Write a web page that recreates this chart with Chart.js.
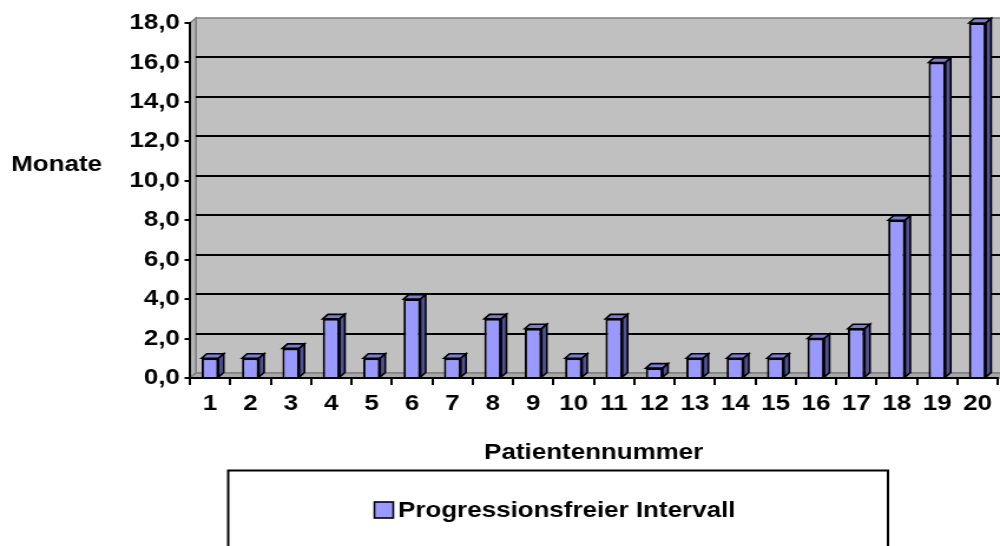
<!DOCTYPE html>
<html>
<head>
<meta charset="utf-8">
<script src="https://cdn.jsdelivr.net/npm/chart.js@4/dist/chart.umd.min.js"></script>
<style>
  html, body { margin: 0; padding: 0; background: #ffffff; overflow: hidden; }
</style>
</head>
<body>
<!-- the drawing is laid out on a narrower canvas and widened to the page width -->
<canvas id="chart" width="848" height="546" style="display:block;width:1000px;height:546px"></canvas>
<script>
// Patient numbers along the x axis
const patients = ['1', '2', '3', '4', '5', '6', '7', '8', '9', '10',
                  '11', '12', '13', '14', '15', '16', '17', '18', '19', '20'];
// Progression-free interval per patient, in months
const months = [1, 1, 1.5, 3, 1, 4, 1, 3, 2.5, 1, 3, 0.5, 1, 1, 1, 2, 2.5, 8, 16, 18];
// Value axis
const yMin = 0;
const yMax = 18;
const yStep = 2;

const seriesLabel = 'Progressionsfreier Intervall';
const xTitle = 'Patientennummer';
const yTitle = 'Monate';

const FONT = "'Liberation Sans', Arial, Helvetica, sans-serif";
const boldFont = { family: FONT, size: 22, weight: 'bold' };

// Back wall, side wall and floor of the 3-D plot box, with the grid on the back wall
const wallsPlugin = {
  id: 'walls',
  beforeDraw(chart, args, o) {
    const { ctx, chartArea: a, scales: { y } } = chart;
    const dx = o.dx, dy = o.dy;
    const poly = (pts, fill, stroke, lw) => {
      ctx.beginPath();
      pts.forEach((p, i) => i ? ctx.lineTo(p[0], p[1]) : ctx.moveTo(p[0], p[1]));
      ctx.closePath();
      if (fill) { ctx.fillStyle = fill; ctx.fill(); }
      if (stroke) { ctx.strokeStyle = stroke; ctx.lineWidth = lw || 1; ctx.stroke(); }
    };
    ctx.save();
    // back wall
    poly([[a.left + dx, a.top + dy], [a.right + dx + 20, a.top + dy],
          [a.right + dx + 20, a.bottom + dy], [a.left + dx, a.bottom + dy]], '#C0C0C0', '#808080', 1.5);
    // left side wall
    poly([[a.left, a.top], [a.left + dx, a.top + dy], [a.left + dx, a.bottom + dy], [a.left, a.bottom]],
         '#B4B4B4', '#808080', 1.5);
    // floor
    poly([[a.left, a.bottom], [a.left + dx, a.bottom + dy], [a.right + dx + 20, a.bottom + dy], [a.right + 20, a.bottom]],
         '#A8A8A8', '#808080', 1.5);
    // grid lines on the back wall
    ctx.strokeStyle = '#000000';
    ctx.lineWidth = 2;
    y.ticks.forEach(t => {
      if (t.value <= yMin || t.value >= yMax) return;
      const py = Math.round(y.getPixelForValue(t.value) + dy);
      ctx.beginPath();
      ctx.moveTo(a.left + dx, py);
      ctx.lineTo(a.right + dx + 20, py);
      ctx.stroke();
    });
    ctx.restore();
  }
};

// Top and side faces that give each bar its depth
const barDepthPlugin = {
  id: 'barDepth',
  afterDatasetsDraw(chart, args, o) {
    const { ctx } = chart;
    const dx = o.dx, dy = o.dy;
    ctx.save();
    ctx.strokeStyle = '#000000';
    ctx.lineWidth = 1.6;
    ctx.lineJoin = 'miter';
    chart.getDatasetMeta(0).data.forEach(bar => {
      const { x, y, base, width } = bar.getProps(['x', 'y', 'base', 'width'], true);
      const l = x - width / 2, r = x + width / 2;
      // top face
      ctx.beginPath();
      ctx.moveTo(l, y); ctx.lineTo(l + dx, y + dy); ctx.lineTo(r + dx, y + dy); ctx.lineTo(r, y);
      ctx.closePath();
      ctx.fillStyle = o.topColor; ctx.fill(); ctx.stroke();
      // right side face
      ctx.beginPath();
      ctx.moveTo(r, y); ctx.lineTo(r + dx, y + dy); ctx.lineTo(r + dx, base + dy); ctx.lineTo(r, base);
      ctx.closePath();
      ctx.fillStyle = o.sideColor; ctx.fill(); ctx.stroke();
    });
    ctx.restore();
  }
};

// Horizontal value-axis caption and the framed legend below the chart
const captionsPlugin = {
  id: 'captions',
  afterDraw(chart, args, o) {
    const { ctx } = chart;
    const ds = chart.data.datasets[0];
    ctx.save();
    ctx.fillStyle = '#000000';
    ctx.font = `bold ${boldFont.size}px ${FONT}`;
    ctx.textBaseline = 'middle';
    // "Monate"
    ctx.textAlign = 'center';
    ctx.fillText(yTitle, o.yTitleX, o.yTitleY);
    // legend frame
    const L = o.legend;
    ctx.strokeStyle = '#000000';
    ctx.lineWidth = 2;
    ctx.strokeRect(L.x, L.y, L.w, L.h);
    // legend swatch
    ctx.fillStyle = ds.backgroundColor;
    ctx.fillRect(L.boxX, L.boxY, L.box, L.box);
    ctx.lineWidth = 1.6;
    ctx.strokeRect(L.boxX, L.boxY, L.box, L.box);
    // legend text
    ctx.fillStyle = '#000000';
    ctx.textAlign = 'left';
    ctx.fillText(ds.label, L.textX, L.textY);
    ctx.restore();
  }
};

new Chart(document.getElementById('chart'), {
  type: 'bar',
  data: {
    labels: patients,
    datasets: [{
      label: seriesLabel,
      data: months,
      backgroundColor: '#9999FF',
      borderColor: '#000000',
      borderWidth: 2,
      categoryPercentage: 1,
      barPercentage: 0.42
    }]
  },
  options: {
    responsive: false,
    devicePixelRatio: 1,
    animation: false,
    layout: { padding: { top: 23, bottom: 76, left: 0, right: 2 } },
    plugins: {
      legend: { display: false },
      tooltip: { enabled: false },
      walls: { dx: 5.1, dy: -5 },
      barDepth: { dx: 4.4, dy: -4.5, topColor: '#7C7CD4', sideColor: '#51519A' },
      captions: {
        yTitleX: 48,
        yTitleY: 165,
        legend: { x: 193.5, y: 470.5, w: 559.5, h: 110, boxX: 317.5, boxY: 502, box: 16, textX: 337.5, textY: 511 }
      }
    },
    scales: {
      x: {
        grid: { display: true, drawOnChartArea: false, drawTicks: true, tickLength: 7, color: '#000000', lineWidth: 2, offset: true },
        border: { display: true, color: '#000000', width: 2 },
        ticks: { color: '#000000', font: boldFont, padding: 6, maxRotation: 0, autoSkip: false },
        title: { display: true, text: xTitle, color: '#000000', font: boldFont, padding: { top: 4, bottom: 4 } },
        afterFit(scale) { scale.height = 92; }
      },
      y: {
        min: yMin,
        max: yMax,
        grid: { display: true, drawOnChartArea: false, drawTicks: true, tickLength: 4.5, color: '#000000', lineWidth: 2 },
        border: { display: true, color: '#000000', width: 2 },
        ticks: {
          stepSize: yStep,
          color: '#000000',
          font: boldFont,
          padding: 4,
          callback: v => Number(v).toFixed(1).replace('.', ',')
        },
        afterFit(scale) { scale.width = 161; }
      }
    }
  },
  plugins: [wallsPlugin, barDepthPlugin, captionsPlugin]
});
</script>
</body>
</html>
